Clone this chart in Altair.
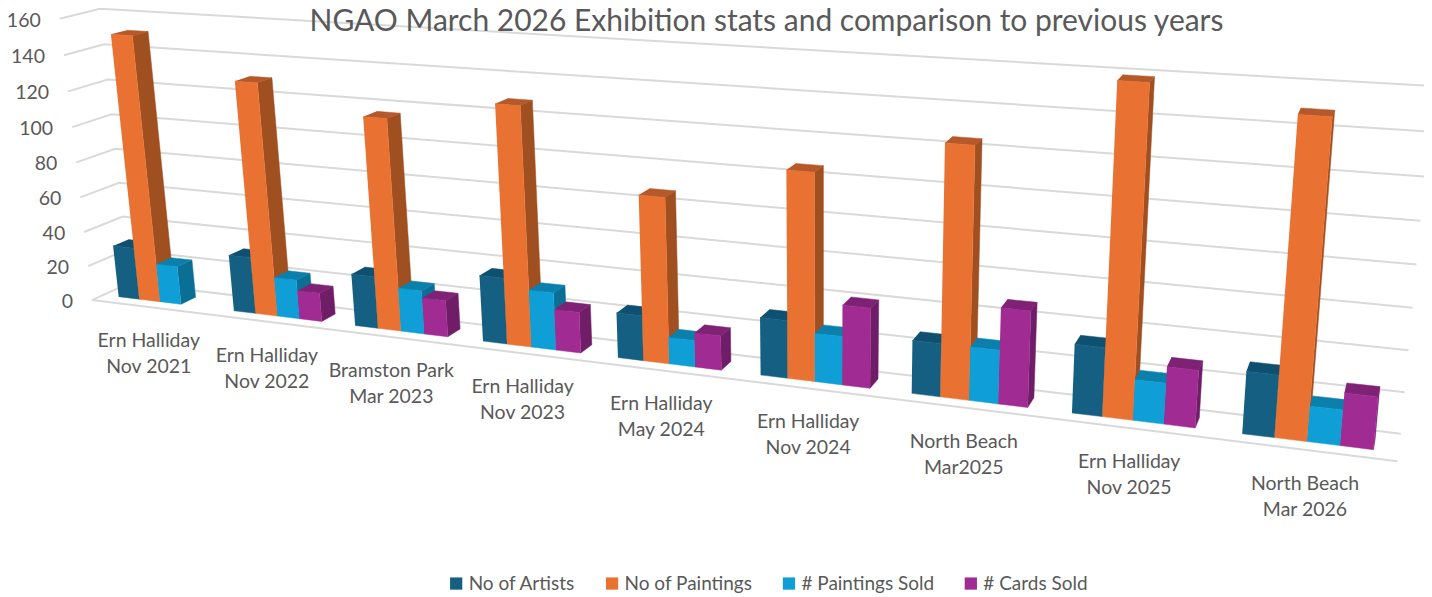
import altair as alt
import numpy as np
import pandas as pd

title_text = "NGAO March 2026 Exhibition stats and comparison to previous years"
categories = ["Ern Halliday\nNov 2021", "Ern Halliday\nNov 2022", "Bramston Park\nMar 2023",
              "Ern Halliday\nNov 2023", "Ern Halliday\nMay 2024", "Ern Halliday\nNov 2024",
              "North Beach\nMar2025", "Ern Halliday\nNov 2025", "North Beach\nMar 2026"]
no_of_artists = [30, 32, 29, 36, 24, 30, 27, 34, 30]
no_of_paintings = [151, 130, 116, 128, 87, 106, 125, 159, 149]
paintings_sold = [22, 22, 24, 31, 14, 25, 27, 20, 17]
cards_sold = [0, 16, 20, 22, 18, 41, 48, 28, 25]
ticks = [0, 20, 40, 60, 80, 100, 120, 140, 160]
series_names = ["No of Artists", "No of Paintings", "# Paintings Sold", "# Cards Sold"]
series_values = [no_of_artists, no_of_paintings, paintings_sold, cards_sold]
front_colors = ["#156082", "#E97132", "#0F9ED5", "#A02B93"]
side_colors = ["#0E4560", "#A04F20", "#0B6E95", "#6E1D66"]
top_colors = ["#0F5070", "#B5582A", "#0C80AC", "#7F2276"]
text_color = "#595959"
font = "Lato"
axis_max = 160

# perspective camera: box corners (category axis, depth, value axis) seen on the page
box = [(0, 0, 0), (1, 0, 0), (0, 1, 0), (0, 0, 1), (0, 1, 1), (1, 1, 1), (1, 1, 0)]
seen = [(92, 300), (1398, 462), (130, 283), (60, 18), (100, 9), (1434, 86), (1402, 433)]
rows = []
for (a, b, c), (sx, sy) in zip(box, seen):
    sx, sy = sx / 1000, sy / 1000
    rows.append([a, b, c, 1, 0, 0, 0, 0, -sx * a, -sx * b, -sx * c, -sx])
    rows.append([0, 0, 0, 0, a, b, c, 1, -sy * a, -sy * b, -sy * c, -sy])
camera = np.linalg.svd(np.array(rows, float))[2][-1].reshape(3, 4)


def project(u, d, v):
    w = camera @ np.array([u, d, v / axis_max, 1.0])
    return float(1000 * w[0] / w[2]), float(1000 * w[1] / w[2])


# gridlines
grid = []
for t in ticks:
    for k, (u, d) in enumerate([(0, 0), (0, 1), (1, 1)]):
        x, y = project(u, d, t)
        grid.append({"line": f"t{t}", "k": k, "x": x, "y": y})
for k, u in enumerate([0, 1]):
    x, y = project(u, 0, 0)
    grid.append({"line": "floor", "k": k, "x": x, "y": y})
grid = pd.DataFrame(grid)

# bars, painted left to right
gap, n, d0, d1 = 0.27, 4, 0.3, 0.7
bar_width = (1 - gap) / n
faces = []
poly = 0
for i in range(len(categories)):
    for j in range(n):
        v = series_values[j][i]
        if v <= 0:
            continue
        u0 = (i + gap / 2 + j * bar_width) / len(categories)
        u1 = (i + gap / 2 + (j + 1) * bar_width) / len(categories)
        shapes = [
            (side_colors[j], [(u1, d0, 0), (u1, d1, 0), (u1, d1, v), (u1, d0, v)]),
            (top_colors[j], [(u0, d0, v), (u1, d0, v), (u1, d1, v), (u0, d1, v)]),
            (front_colors[j], [(u0, d0, 0), (u1, d0, 0), (u1, d0, v), (u0, d0, v)]),
        ]
        for color, corners in shapes:
            poly += 1
            for k, c in enumerate(corners):
                x, y = project(*c)
                faces.append({"poly": poly, "k": k, "x": x, "y": y, "c": color})
faces = pd.DataFrame(faces)

tick_df = pd.DataFrame([{"label": str(t), "x": project(0, 0, t)[0], "y": project(0, 0, t)[1]} for t in ticks])
cat_df = pd.DataFrame([{"label": c, "x": project((i + 0.5) / len(categories), 0, 0)[0],
                        "y": project((i + 0.5) / len(categories), 0, 0)[1]} for i, c in enumerate(categories)])
legend_df = pd.DataFrame({"series": series_names, "x": [700] * 4, "y": [300] * 4})
title_df = pd.DataFrame({"label": [title_text]})

xs = alt.X("x:Q", axis=None, scale=alt.Scale(domain=[8, 1425], range=[0, 1417], nice=False, zero=False))
ys = alt.Y("y:Q", axis=None, scale=alt.Scale(domain=[596, 8], range=[588, 0], nice=False, zero=False))

grid_layer = alt.Chart(grid).mark_line(color="#D9D9D9", strokeWidth=2).encode(
    x=xs, y=ys, detail="line:N", order="k:Q")
bar_layer = alt.Chart(faces).mark_line(strokeWidth=0.5).encode(
    x=xs, y=ys, detail="poly:Q", order="k:Q",
    fill=alt.Fill("c:N", scale=None), stroke=alt.Stroke("c:N", scale=None))
tick_layer = alt.Chart(tick_df).mark_text(
    align="right", baseline="middle", dx=-19, dy=2, fontSize=19.5, font=font, color=text_color
).encode(x=xs, y=ys, text="label:N")
cat_layer = alt.Chart(cat_df).mark_text(
    align="center", baseline="top", dy=25, lineBreak="\n", lineHeight=26, fontSize=19.5, font=font, color=text_color
).encode(x=xs, y=ys, text="label:N")
title_layer = alt.Chart(title_df).mark_text(
    align="center", baseline="alphabetic", fontSize=30, font=font, color=text_color
).encode(x=alt.value(759), y=alt.value(23), text="label:N")
legend_layer = alt.Chart(legend_df).mark_square(size=0, opacity=0).encode(
    x=xs, y=ys,
    color=alt.Color("series:N", scale=alt.Scale(domain=series_names, range=front_colors), title=None,
                    legend=alt.Legend(orient="none", legendX=439, legendY=566, direction="horizontal", columns=4,
                                      symbolType="square", symbolSize=150, symbolOpacity=1, symbolStrokeWidth=0,
                                      labelFont=font, labelFontSize=19, labelColor=text_color,
                                      labelLimit=300, columnPadding=27, labelOffset=3)))

chart = alt.layer(grid_layer, bar_layer, tick_layer, cat_layer, legend_layer, title_layer).properties(
    width=1417, height=588, padding=0, autosize=alt.AutoSizeParams(type="none"),
).configure_view(stroke=None)

chart.save("out.html", embed_options={"renderer": "svg", "actions": False})
